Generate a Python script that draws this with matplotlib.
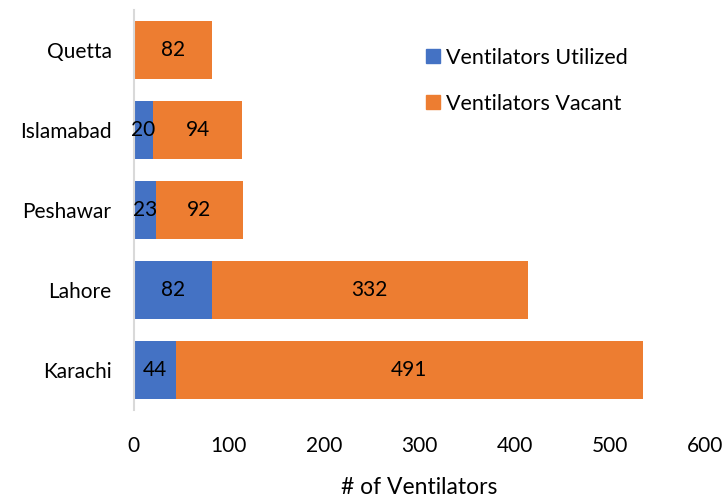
import matplotlib
matplotlib.use("Agg")
import matplotlib.pyplot as plt
from matplotlib.lines import Line2D

plt.rcParams['font.family'] = ['Lato', 'DejaVu Sans']

cities = ["Karachi", "Lahore", "Peshawar", "Islamabad", "Quetta"]
utilized = [44, 82, 23, 20, 0]
vacant = [491, 332, 92, 94, 82]
xticks = [0, 100, 200, 300, 400, 500, 600]

blue = "#4472C4"
orange = "#ED7D31"

fig = plt.figure(figsize=(7.23, 4.98), dpi=100)
ax = fig.add_axes([0.185, 0.177, 0.79, 0.803])

y = list(range(len(cities)))
h = 0.73
ax.barh(y, utilized, height=h, color=blue)
ax.barh(y, vacant, left=utilized, height=h, color=orange)

fs = 15
for i in y:
    if utilized[i] > 0:
        ax.text(utilized[i] / 2, i, str(utilized[i]), ha='center', va='center', fontsize=fs, color='black')
    ax.text(utilized[i] + vacant[i] / 2, i, str(vacant[i]), ha='center', va='center', fontsize=fs, color='black')

ax.set_xlim(0, 600)
ax.set_ylim(-0.5, 4.5)
ax.set_yticks(y)
ax.set_yticklabels(cities, fontsize=fs)
ax.set_xticks(xticks)
ax.set_xticklabels([str(t) for t in xticks], fontsize=fs)
ax.tick_params(axis='both', length=0)
ax.tick_params(axis='x', pad=19)
ax.tick_params(axis='y', pad=16)
for s in ['top', 'right', 'bottom']:
    ax.spines[s].set_visible(False)
ax.spines['left'].set_color('#D9D9D9')
ax.spines['left'].set_linewidth(1.5)

ax.set_xlabel("# of Ventilators", fontsize=16.5, labelpad=15)

handles = [Line2D([], [], marker='s', linestyle='none', markersize=9.5, color=blue),
           Line2D([], [], marker='s', linestyle='none', markersize=9.5, color=orange)]
ax.legend(handles, ["Ventilators Utilized", "Ventilators Vacant"], loc='center left',
          bbox_to_anchor=(0.505, 0.823), frameon=False, fontsize=15.5,
          handletextpad=0.1, labelspacing=1.2, handlelength=1.0, borderpad=0, borderaxespad=0)

fig.savefig("out.png", dpi=100)
